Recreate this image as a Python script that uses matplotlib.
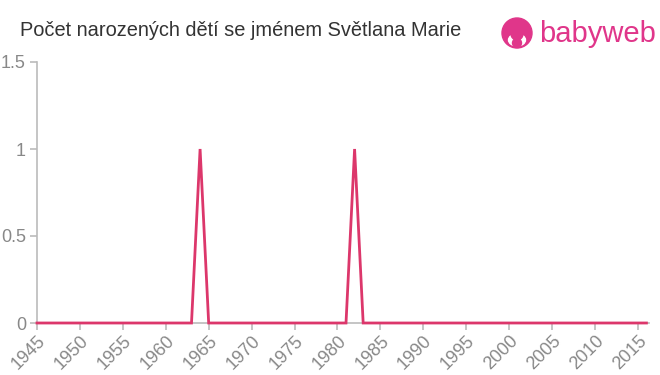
import matplotlib
matplotlib.use("Agg")
import matplotlib.pyplot as plt
from matplotlib.patches import Ellipse

years = list(range(1945, 2017))
peak_years = [1964, 1982]
peak_values = [1, 1]
counts = [peak_values[peak_years.index(y)] if y in peak_years else 0 for y in years]

xticks = list(range(1945, 2016, 5))
yticks = [0, 0.5, 1, 1.5]
ytick_labels = ["0", "0.5", "1", "1.5"]

plt.rcParams['font.family'] = ['Liberation Sans', 'DejaVu Sans']

W, H = 660, 375
fig = plt.figure(figsize=(6.6, 3.75), dpi=100)
ax = fig.add_axes([37/W, 52/H, 612/W, 261/H])
ax.plot(years, counts, color="#dc376b", lw=2, solid_joinstyle="miter", clip_on=False, zorder=3)
ax.set_xlim(1945, 2016.3)
ax.set_ylim(0, 1.5)
ax.set_xticks(xticks)
ax.set_xticklabels([str(x) for x in xticks], rotation=45, ha="right", va="top", rotation_mode="anchor")
ax.set_yticks(yticks)
ax.set_yticklabels(ytick_labels)
for s in ["top", "right"]:
    ax.spines[s].set_visible(False)
for s in ["left", "bottom"]:
    ax.spines[s].set_color("#bbbbbb")
    ax.spines[s].set_linewidth(1.2)
ax.tick_params(axis="both", colors="#bbbbbb", length=5, width=1.2, labelcolor="#888888", labelsize=13)
ax.tick_params(axis="x", pad=2)
ax.tick_params(axis="y", pad=3)

fig.text(20/W, 1 - 30/H, "Počet narozených dětí se jménem Světlana Marie", fontsize=14.4, color="#333333", va="center", ha="left")

# logo
pink = "#e0368a"
def circ(cx, cy, r, color, z):
    e = Ellipse((cx/W, 1 - cy/H), 2*r/W, 2*r/H, transform=fig.transFigure, color=color, zorder=z)
    fig.patches.append(e)
circ(517, 33, 15, pink, 5)
e = Ellipse((517/W, 1 - 40/H), 17/W, 12/H, transform=fig.transFigure, color="white", zorder=6)
fig.patches.append(e)
circ(517, 34, 6, pink, 7)
circ(517, 43, 4.5, pink, 7)
fig.text(539/W, 1 - 34/H, "babyweb", fontsize=21, color=pink, va="center", ha="left")

fig.savefig("out.png", dpi=100)
